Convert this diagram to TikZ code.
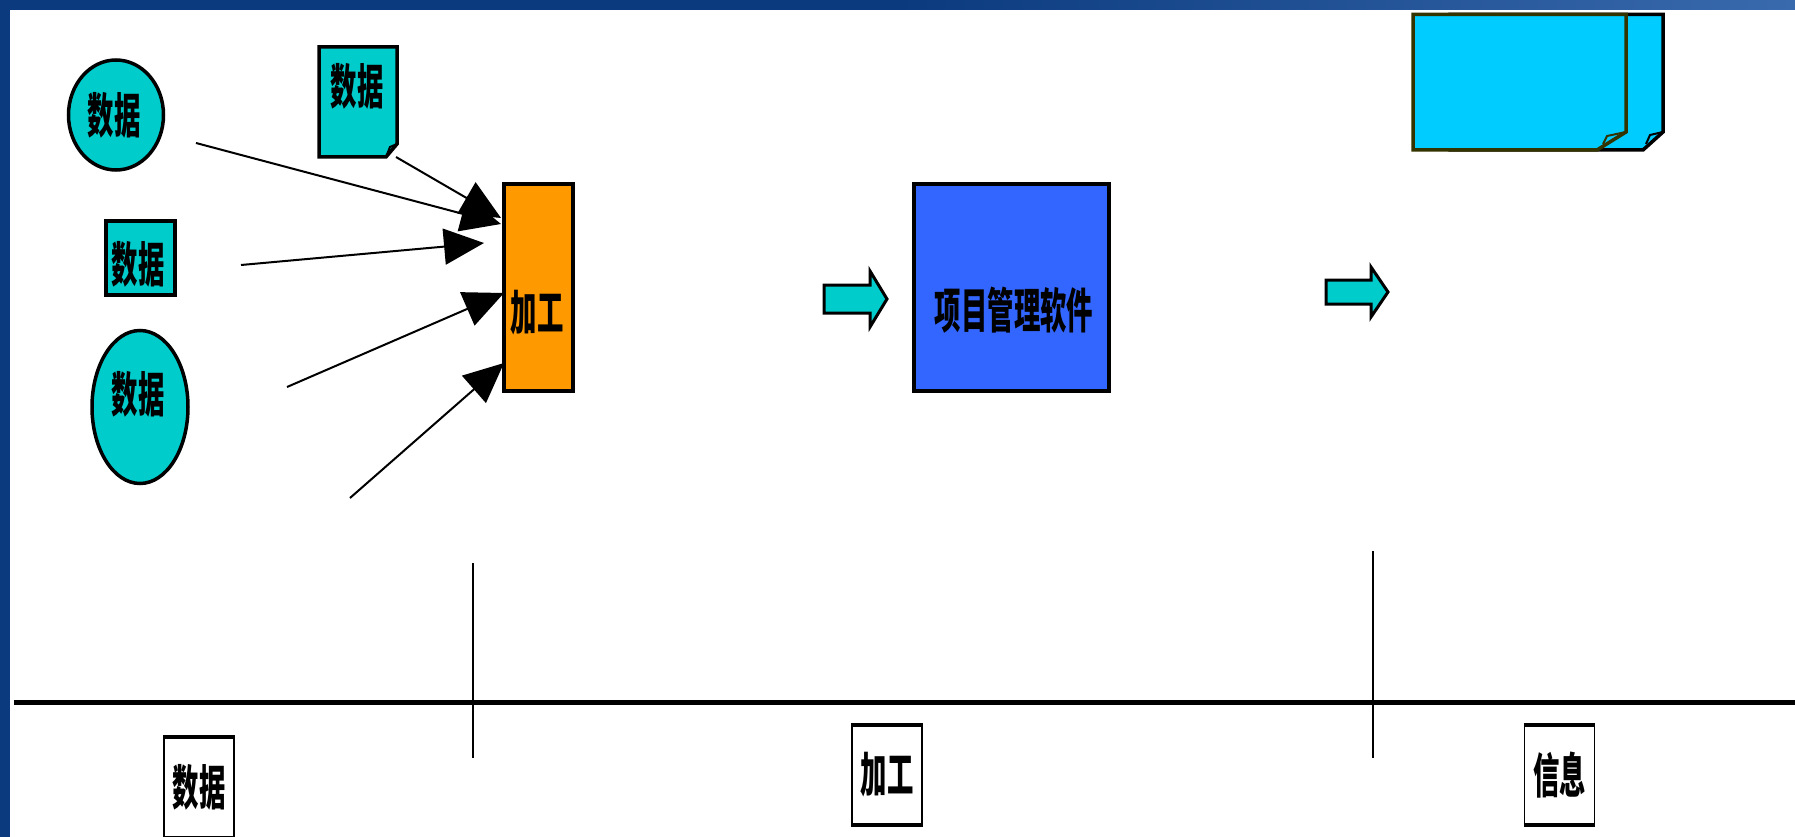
\documentclass[tikz,border=0pt]{standalone}
\usepackage{graphicx}
\usepackage{fontspec}
\newfontfamily\cjk{Noto Sans CJK SC}
\usetikzlibrary{shapes.geometric,arrows.meta}
\definecolor{cyanfill}{HTML}{00CCCC}
\definecolor{skyfill}{HTML}{00CCFF}
\definecolor{orangefill}{HTML}{FF9900}
\definecolor{bluefill}{HTML}{3366FF}
\definecolor{bandblue}{HTML}{0B3A7E}
\definecolor{bandlight}{HTML}{3A6AAE}
\definecolor{olivedark}{HTML}{333300}
\newcommand{\zh}[1]{\scalebox{0.55}[1]{\cjk\bfseries #1}}
\begin{document}
\begin{tikzpicture}[x=1pt,y=-1pt,
  txt/.style={font=\fontsize{48}{50}\selectfont, inner sep=0pt},
  datashape/.style={draw=black, line width=3.5pt, fill=cyanfill, inner sep=0pt},
  feed/.style={line width=2pt, -{Triangle[length=40pt,width=36pt]}},
  blockarrow/.style={draw=black, line width=3pt, fill=cyanfill},
  labelbox/.style={draw=black, line width=1.5pt, fill=white, minimum width=70pt, minimum height=99pt, inner sep=0pt, font=\fontsize{48}{50}\selectfont},
  divider/.style={line width=2.5pt},
  sheet/.style={line width=3.5pt, fill=skyfill}]
\useasboundingbox (0,0) rectangle (1795,837);
\fill[white] (0,0) rectangle (1795,837);
% frame band
\shade[left color=bandblue, right color=bandlight, middle color=bandblue] (0,0) rectangle (1795,10);
\fill[bandblue] (0,0) rectangle (10,837);

% data sources
\node[datashape, ellipse, minimum width=95pt, minimum height=110pt] (e1) at (116,115) {};
\node[txt] (e1t) at (114,115) {\zh{数据}};
\draw[datashape] (319,47) -- (397,47) -- (397,144) -- (386,157) -- (319,157) -- cycle;
\draw[line width=2pt] (397,144) -- (390,147) -- (386,157);
\node[txt] (doc) at (357,86) {\zh{数据}};
\node[datashape, rectangle, minimum width=69pt, minimum height=74pt] (r2) at (140.5,258) {};
\node[txt] (r2t) at (138,264) {\zh{数据}};
\node[datashape, ellipse, minimum width=96pt, minimum height=153pt] (e3) at (140,407) {};
\node[txt] (e3t) at (138,394) {\zh{数据}};

% processing
\node[datashape, fill=orangefill, rectangle, minimum width=69pt, minimum height=207pt] (proc) at (538.5,287.5) {};
\node[txt] (proct) at (537,313) {\zh{加工}};

% feed arrows
\coordinate (s1) at (196,143);
\coordinate (sd) at (396,157);
\coordinate (s2) at (241,265);
\coordinate (s3) at (287,387);
\coordinate (s4) at (350,498);
\coordinate (t1) at (501,224);
\coordinate (td) at (501,218);
\coordinate (t2) at (484,243);
\coordinate (t3) at (504,293);
\coordinate (t4) at (504,363);
\draw[feed] (s1) -- (t1);
\draw[feed] (sd) -- (td);
\draw[feed] (s2) -- (t2);
\draw[feed] (s3) -- (t3);
\draw[feed] (s4) -- (t4);

% block arrow 1
\draw[blockarrow] (824,285) -- (870,285) -- (870,271) -- (887,299) -- (870,327) -- (870,313) -- (824,313) -- cycle;
% software
\node[datashape, fill=bluefill, rectangle, minimum width=195pt, minimum height=207pt] (soft) at (1011.5,287.5) {};
\node[txt] (softt) at (1014,310) {\zh{项目管理软件}};
% block arrow 2
\draw[blockarrow] (1326,280) -- (1371,280) -- (1371,267) -- (1388,292) -- (1371,317) -- (1371,304) -- (1326,304) -- cycle;

% information sheets
\draw[sheet, draw=black] (1450,14.5) -- (1663,14.5) -- (1663,132) -- (1643,150) -- (1450,150) -- cycle;
\draw[line width=2pt] (1663,132) -- (1650,135) -- (1646,144);
\draw[sheet, draw=olivedark] (1413,14.5) -- (1626,14.5) -- (1626,132) -- (1597,150) -- (1413,150) -- cycle;
\draw[line width=2pt, olivedark] (1626,132) -- (1607,136) -- (1603,144);

% timeline
\coordinate (axL) at (14,702);
\coordinate (axR) at (1795,702);
\draw[line width=5pt] (axL) -- (axR);
\coordinate (d1a) at (473,563);
\coordinate (d1b) at (473,758);
\coordinate (d2a) at (1373,551);
\coordinate (d2b) at (1373,758);
\draw[divider] (d1a) -- (d1b);
\draw[divider] (d2a) -- (d2b);

% stage labels
\node[labelbox] (l1) at (199,787.5) {\zh{数据}};
\node[labelbox] (l2) at (887,775) {\zh{加工}};
\node[labelbox] (l3) at (1559.5,775) {\zh{信息}};
\foreach \n in {l1,l2,l3}{
  \draw[line width=4pt] (\n.north west) -- (\n.north east);
  \draw[line width=4pt] (\n.south west) -- (\n.south east);
}
\end{tikzpicture}
\end{document}
